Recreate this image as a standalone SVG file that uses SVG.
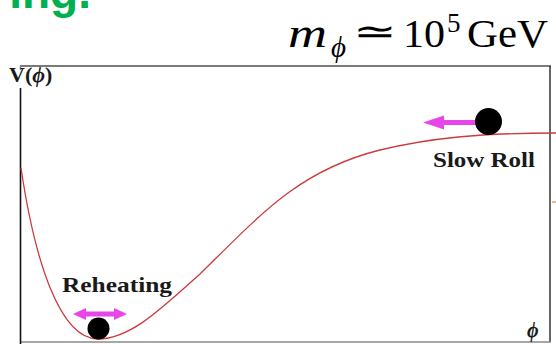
<svg xmlns="http://www.w3.org/2000/svg" width="556" height="344" viewBox="0 0 556 344">
<style>
.serif{font-family:"Liberation Serif","DejaVu Serif",serif;fill:#000}
.lbl{font-family:"Liberation Serif","DejaVu Serif",serif;font-weight:bold;fill:#1a1a1a}
.mag{fill:#e845e8}
.ball{fill:#000}
</style>
<rect width="556" height="344" fill="#fff"/>
<g id="heading">
<text x="91" y="8" text-anchor="end" font-family="'Liberation Sans',Arial,sans-serif" font-weight="bold" font-size="46" fill="#00b050">ing.</text>
</g>
<g id="mass-formula" class="serif">
<text x="288" y="47" font-size="42" font-style="italic" textLength="39" lengthAdjust="spacingAndGlyphs">m</text>
<text x="331" y="57" font-size="29" font-style="italic">ϕ</text>
<text x="353" y="43" font-size="34" font-family="'DejaVu Sans',sans-serif" font-weight="200" textLength="43" lengthAdjust="spacingAndGlyphs">≃</text>
<text x="403" y="47" font-size="40" textLength="42" lengthAdjust="spacingAndGlyphs">10</text>
<text x="447" y="32" font-size="27">5</text>
<text x="467" y="47" font-size="40" textLength="81" lengthAdjust="spacingAndGlyphs">GeV</text>
</g>
<g id="frame" fill="none">
<line x1="20" y1="66" x2="551" y2="66" stroke="#7a7a7a" stroke-width="2"/>
<line x1="20.5" y1="66" x2="20.5" y2="70" stroke="#7a7a7a" stroke-width="1.5"/>
<line x1="550" y1="66" x2="550" y2="342" stroke="#333" stroke-width="1.5"/>
<line x1="20" y1="342" x2="551" y2="342" stroke="#8a8a8a" stroke-width="1.5"/>
<line x1="20.5" y1="88" x2="20.5" y2="344" stroke="#111" stroke-width="1.6"/>
<line x1="552" y1="202" x2="556" y2="202" stroke="#e8a060" stroke-width="1.5"/>
</g>
<g id="axis-labels" class="lbl">
<text x="9" y="82" font-size="22">V(<tspan font-style="italic">ϕ</tspan>)</text>
<text x="527" y="337" font-size="20" font-style="italic">ϕ</text>
</g>
<g id="potential">
<path d="M21,168 C35,262 60,339 98,339 C130,339 160,310 200,274 C262,213 300,170 380,150 C430,138 480,133 556,133" fill="none" stroke="#cc3b3b" stroke-width="1.3"/>
</g>
<g id="slow-roll">
<rect x="440" y="120" width="37" height="5" class="mag"/>
<polygon points="423,122.5 444,115.5 444,129.5" class="mag"/>
<circle cx="488.5" cy="121.5" r="13.5" class="ball"/>
<text x="433" y="167" font-size="22" class="lbl" textLength="102" lengthAdjust="spacingAndGlyphs">Slow Roll</text>
</g>
<g id="reheating">
<rect x="83" y="311.5" width="34" height="5" class="mag"/>
<polygon points="73,314 86,308 86,320" class="mag"/>
<polygon points="127,314 114,308 114,320" class="mag"/>
<circle cx="98.5" cy="328.5" r="11" class="ball"/>
<text x="62" y="292" font-size="22" class="lbl" textLength="110" lengthAdjust="spacingAndGlyphs">Reheating</text>
</g>
</svg>
